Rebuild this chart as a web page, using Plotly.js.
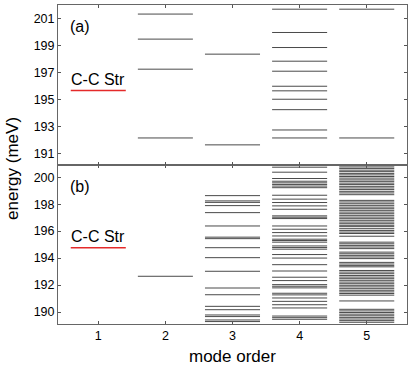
<!DOCTYPE html>
<html>
<head>
<meta charset="utf-8">
<script src="https://cdn.plot.ly/plotly-3.0.1.min.js"></script>
<style>html,body{margin:0;padding:0;background:#fff;}#chart{width:415px;height:368px;}</style>
</head>
<body>
<div id="chart"></div>
<script>
// mode order categories
const modeOrders = [1, 2, 3, 4, 5];
const xTickLabels = ['1', '2', '3', '4', '5'];
const topTicks = [191, 193, 195, 197, 199, 201];
const botTicks = [190, 192, 194, 196, 198, 200];

// (a) panel energies (meV) per mode order
const a1 = [195.68];
const a2 = [201.33, 199.48, 197.26, 192.18];
const a3 = [198.37, 191.67];
const a4 = [201.69, 199.97, 198.86, 197.85, 197.11, 196.00, 195.66, 195.04, 194.27, 192.77, 192.18];
const a5 = [201.69, 192.18];

// (b) panel energies (meV) per mode order
const b1 = [194.77];
const b2 = [192.65];
const b3 = [200.89, 198.63, 198.24, 198.13, 197.89, 197.37, 196.38, 195.55, 195.44, 194.77, 194.03,
            193.02, 191.78, 191.28, 190.42, 190.17, 189.78, 189.66, 189.41, 189.29];
const b4 = [200.74, 200.37, 199.90, 199.70, 199.58, 199.46, 199.34, 199.22, 198.66, 198.37, 198.12,
            197.87, 197.62, 197.13, 197.03, 196.93, 196.38, 196.14, 195.89, 195.64, 195.40, 195.30,
            195.18, 194.90, 194.78, 194.66, 194.26, 194.00, 193.51, 193.04, 192.58, 192.33, 192.03,
            191.91, 191.79, 191.39, 191.27, 191.04, 190.79, 190.54, 190.30, 189.70, 189.58, 189.46];
const b5 = [200.88, 200.76, 200.65, 200.52, 200.41, 200.28, 200.17, 200.05, 199.93, 199.80, 199.69,
            199.56, 199.45, 199.32, 199.20, 199.08, 198.95, 198.83, 198.70,
            198.28, 198.16, 198.03, 197.91, 197.78, 197.66, 197.54, 197.41, 197.29, 197.17, 197.04,
            196.92, 196.80, 196.67, 196.55, 196.43, 196.33,
            196.18, 196.05, 195.93, 195.82, 195.62,
            195.18, 195.06, 194.94, 194.82, 194.70,
            194.44, 194.32, 194.20, 194.08, 193.96,
            193.68, 193.56, 193.44, 193.35,
            193.08, 192.96, 192.84, 192.71, 192.59, 192.47, 192.35, 192.22, 192.10, 191.98, 191.86,
            191.73, 191.61, 191.49, 191.37, 191.25,
            190.82,
            190.20, 190.08, 189.96, 189.84, 189.72, 189.60, 189.48, 189.36, 189.24];

const HALF = 0.41;
function segs(xc, arr) {
  const x = [], y = [];
  arr.forEach(v => { x.push(xc - HALF, xc + HALF, null); y.push(v, v, null); });
  return {x, y};
}
function trace(xc, arr, axes, color, width) {
  const s = segs(xc, arr);
  return {type: 'scatter', mode: 'lines', x: s.x, y: s.y, xaxis: axes[0], yaxis: axes[1],
          line: {color: color, width: width}, hoverinfo: 'skip', showlegend: false, connectgaps: false};
}
const GREY = '#4a4a4a', RED = '#e42a2a';
const topAx = ['x2', 'y2'], botAx = ['x', 'y'];
const topSets = [a1, a2, a3, a4, a5];
const botSets = [b1, b2, b3, b4, b5];
const data = [];
topSets.forEach((arr, i) => data.push(trace(modeOrders[i], arr, topAx, i === 0 ? RED : GREY, i === 0 ? 1.6 : 1)));
botSets.forEach((arr, i) => data.push(trace(modeOrders[i], arr, botAx, i === 0 ? RED : GREY, i === 0 ? 1.6 : 1)));

const FONT = 'Liberation Sans, Arial, sans-serif';
const frame = {showline: true, linecolor: '#666', linewidth: 1, mirror: 'allticks', ticks: 'inside',
               ticklen: 3, tickcolor: '#555', showgrid: false, zeroline: false};
const layout = {
  width: 415, height: 368,
  margin: {l: 58, r: 8, t: 5, b: 44},
  paper_bgcolor: '#fff', plot_bgcolor: '#fff',
  font: {family: FONT, size: 12.5, color: '#000'},
  showlegend: false,
  xaxis: Object.assign({}, frame, {domain: [0, 1], range: [0.4, 5.6], anchor: 'y',
          tickvals: modeOrders, ticktext: xTickLabels, tickfont: {size: 12.5}}),
  yaxis: Object.assign({}, frame, {domain: [0, 0.5], range: [189.11, 200.94], anchor: 'x',
          tickvals: botTicks, ticktext: botTicks.map(String)}),
  xaxis2: Object.assign({}, frame, {domain: [0, 1], range: [0.4, 5.6], anchor: 'y2',
          tickvals: modeOrders, showticklabels: false}),
  yaxis2: Object.assign({}, frame, {domain: [0.5, 1], range: [190.22, 202.0], anchor: 'x2',
          tickvals: topTicks, ticktext: topTicks.map(String)}),
  annotations: [
    {text: '(a)', xref: 'paper', yref: 'paper', x: 0.028, y: 0.932, xanchor: 'left', yanchor: 'middle',
     showarrow: false, font: {size: 16}},
    {text: '(b)', xref: 'paper', yref: 'paper', x: 0.028, y: 0.4326, xanchor: 'left', yanchor: 'middle',
     showarrow: false, font: {size: 16}},
    {text: 'C-C Str', xref: 'x2', yref: 'y2', x: 1, y: a1[0], xanchor: 'center', yanchor: 'bottom',
     yshift: 1, showarrow: false, font: {size: 16}},
    {text: 'C-C Str', xref: 'x', yref: 'y', x: 1, y: b1[0], xanchor: 'center', yanchor: 'bottom',
     yshift: 1, showarrow: false, font: {size: 16}},
    {text: 'mode order', xref: 'paper', yref: 'paper', x: 0.5, y: -0.103, xanchor: 'center', yanchor: 'middle',
     showarrow: false, font: {size: 17}},
    {text: 'energy (meV)', xref: 'paper', yref: 'paper', x: -0.132, y: 0.489, xanchor: 'center', yanchor: 'middle',
     textangle: -90, showarrow: false, font: {size: 17}}
  ]
};
Plotly.newPlot('chart', data, layout, {displayModeBar: false, staticPlot: true});
</script>
</body>
</html>
